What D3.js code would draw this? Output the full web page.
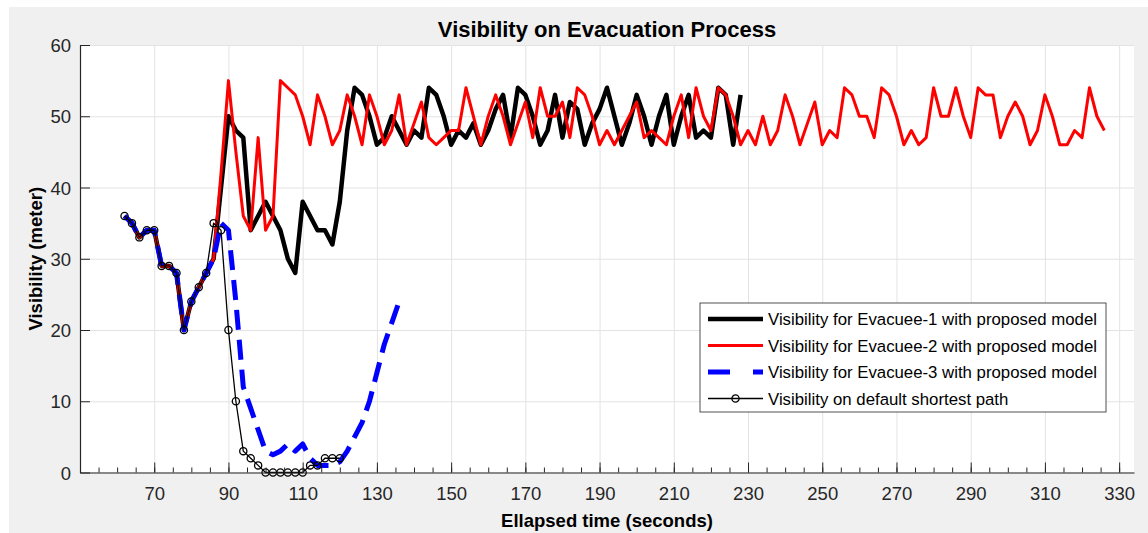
<!DOCTYPE html>
<html>
<head>
<meta charset="utf-8">
<script src="https://cdn.jsdelivr.net/npm/d3@7"></script>
<style>
  body { margin: 0; background: #ffffff; }
  svg { display: block; font-family: "Liberation Sans", Arial, sans-serif; }
</style>
</head>
<body>
<svg id="chart" width="1148" height="533"></svg>
<script>

// sampling: every 2 seconds, starting at 62 s
var nTimeStart = 62;
var nTimeStep = 2;

var aEvacuee1 = [36,35,33,34,34,29,29,28,20,24,26,28,30,
	40,50,48,47,34,36,38,36,34,30,28,38,36,34,34,32,38,48,54,53,
	50,46,47,50,48,46,48,47,54,53,50,46,48,47,49,46,48,51,53,47,
	54,53,50,46,48,53,47,52,51,46,49,51,54,50,46,49,53,50,46,50,
	53,46,50,53,47,48,47,54,53,46,53];

var aEvacuee2 = [36,35,33,34,34,29,29,28,20,24,26,28,30,
	42,55,45,36,34,47,34,36,55,54,53,50,46,53,50,46,48,53,50,46,
	53,50,46,48,53,46,49,52,47,46,47,48,48,54,50,46,50,53,50,46,
	49,52,47,54,50,50,52,47,54,53,50,46,48,46,48,50,52,47,48,47,
	46,50,53,47,54,50,48,54,53,50,46,48,46,50,46,48,53,50,46,49,
	52,46,48,47,54,53,50,50,47,54,53,50,46,48,46,47,54,50,50,54,
	50,47,54,53,53,47,50,52,50,46,48,53,50,46,46,48,47,54,50,48];

var aEvacuee3 = [36,35,33,34,34,29,29,28,20,24,26,28,30,
	35,34,24,12,9,6,3,2.5,3,4,3,4,2,1,1,1,1.5,3,5,7,10,14,18,21,24];

var aShortest = [36,35,33,34,34,29,29,28,20,24,26,28,35,34,20,10,3,2,1,0,
	0,0,0,0,0,1,1,2,2,2];

var aSeriesNames = [
	'Visibility for Evacuee-1 with proposed model',
	'Visibility for Evacuee-2 with proposed model',
	'Visibility for Evacuee-3 with proposed model',
	'Visibility on default shortest path'];

var aXTicks = [70,90,110,130,150,170,190,210,230,250,270,290,310,330];
var aYTicks = [0,10,20,30,40,50,60];

var strTitle = 'Visibility on Evacuation Process';
var strXLabel = 'Ellapsed time (seconds)';
var strYLabel = 'Visibility (meter)';


function ToPoints(aValues)
{
	return aValues.map(function(fValue, i)
		{
			return { t: nTimeStart + i*nTimeStep, v: fValue };
		});
}

var aSeries = [
	{ name: aSeriesNames[0], data: ToPoints(aEvacuee1), color: '#000000', width: 4.5, dash: null, marker: false },
	{ name: aSeriesNames[1], data: ToPoints(aEvacuee2), color: '#ff0000', width: 3, dash: null, marker: false },
	{ name: aSeriesNames[2], data: ToPoints(aEvacuee3), color: '#0000ff', width: 5, dash: '20,10', marker: false },
	{ name: aSeriesNames[3], data: ToPoints(aShortest), color: '#000000', width: 1.3, dash: null, marker: true }
];

var sSvg = d3.select('#chart');

var nLeft = 80, nRight = 1134, nTop = 45, nBottom = 472.5;
const strAxisColor = '#262626';

// figure background
sSvg.append('rect')
	.attr('x', 9).attr('y', 7)
	.attr('width', 1148-9).attr('height', 533-7)
	.attr('fill', '#f0f0f0');

sSvg.append('rect')
	.attr('x', nLeft).attr('y', nTop)
	.attr('width', nRight-nLeft).attr('height', nBottom-nTop)
	.attr('fill', '#ffffff');

var scaleX = d3.scaleLinear()
	.domain([50, 334])
	.range([nLeft, nRight]);

var scaleY = d3.scaleLinear()
	.domain([0, 60])
	.range([nBottom, nTop]);

// grid
sSvg.append('g')
	.attr('transform', 'translate(0,' + nBottom + ')')
	.call(d3.axisBottom(scaleX).tickValues(aXTicks).tickSize(-(nBottom-nTop)).tickFormat(''))
	.call(function(g) { g.select('.domain').remove(); })
	.selectAll('line').attr('stroke', '#e3e3e3').attr('stroke-width', 1);

sSvg.append('g')
	.attr('transform', 'translate(' + nLeft + ',0)')
	.call(d3.axisLeft(scaleY).tickValues(aYTicks).tickSize(-(nRight-nLeft)).tickFormat(''))
	.call(function(g) { g.select('.domain').remove(); })
	.selectAll('line').attr('stroke', '#e3e3e3').attr('stroke-width', 1);

// series
var lineGen = d3.line()
	.x(function(d) { return scaleX(d.t); })
	.y(function(d) { return scaleY(d.v); });

aSeries.forEach(function(oSeries)
	{
		sSvg.append('path')
			.datum(oSeries.data)
			.attr('d', lineGen)
			.attr('fill', 'none')
			.attr('stroke', oSeries.color)
			.attr('stroke-width', oSeries.width)
			.attr('stroke-linejoin', 'round')
			.attr('stroke-dasharray', oSeries.dash);

		if (oSeries.marker)
		{
			sSvg.append('g').selectAll('circle')
				.data(oSeries.data)
				.enter()
				.append('circle')
					.attr('cx', function(d) { return scaleX(d.t); })
					.attr('cy', function(d) { return scaleY(d.v); })
					.attr('r', 3.6)
					.attr('fill', 'none')
					.attr('stroke', oSeries.color)
					.attr('stroke-width', 1.3);
		}
	});

// axes: minor ticks, major ticks, labels
var sAxisX = sSvg.append('g')
	.attr('transform', 'translate(0,' + nBottom + ')');

sAxisX.append('g')
	.call(d3.axisBottom(scaleX).tickValues(d3.range(50, 334, 5)).tickSize(-5).tickFormat(''))
	.call(function(g) { g.select('.domain').remove(); })
	.selectAll('line').attr('stroke', strAxisColor);

sAxisX.append('g')
	.call(d3.axisBottom(scaleX).tickValues(aXTicks).tickSizeInner(-10).tickSizeOuter(0))
	.call(function(g)
		{
			g.select('.domain').attr('stroke', strAxisColor).attr('stroke-width', 1.2);
			g.selectAll('line').attr('stroke', strAxisColor);
			g.selectAll('text')
				.attr('y', 27)
				.attr('dy', 0)
				.attr('fill', strAxisColor)
				.style('font-size', '18.5px');
		});

sSvg.append('g')
	.attr('transform', 'translate(' + nLeft + ',0)')
	.call(d3.axisLeft(scaleY).tickValues(aYTicks).tickSizeInner(-10).tickSizeOuter(0))
	.call(function(g)
		{
			g.select('.domain').attr('stroke', strAxisColor).attr('stroke-width', 1.2);
			g.selectAll('line').attr('stroke', strAxisColor);
			g.selectAll('text')
				.attr('x', -9)
				.attr('dy', '0.36em')
				.attr('fill', strAxisColor)
				.style('font-size', '18.5px');
		});

// titles
sSvg.append('text')
	.attr('x', (nLeft+nRight)/2).attr('y', 37)
	.attr('text-anchor', 'middle')
	.style('font-size', '22px').style('font-weight', 'bold')
	.attr('fill', '#000')
	.text(strTitle);

sSvg.append('text')
	.attr('x', (nLeft+nRight)/2).attr('y', 527)
	.attr('text-anchor', 'middle')
	.style('font-size', '18.5px').style('font-weight', 'bold')
	.attr('fill', '#000')
	.text(strXLabel);

sSvg.append('text')
	.attr('transform', 'translate(42,' + ((nTop+nBottom)/2) + ') rotate(-90)')
	.attr('text-anchor', 'middle')
	.style('font-size', '18.5px').style('font-weight', 'bold')
	.attr('fill', '#000')
	.text(strYLabel);

// legend
var sLegend = sSvg.append('g').attr('transform', 'translate(700,303)');

sLegend.append('rect')
	.attr('width', 406).attr('height', 109)
	.attr('fill', '#ffffff')
	.attr('stroke', strAxisColor)
	.attr('stroke-width', 0.8);

var sItems = sLegend.selectAll('.legend-item')
	.data(aSeries)
	.enter()
	.append('g')
		.attr('class', 'legend-item')
		.attr('transform', function(d, i) { return 'translate(0,' + (16 + i*26.5) + ')'; });

sItems.append('line')
	.attr('x1', 8).attr('x2', 63)
	.attr('y1', 0).attr('y2', 0)
	.attr('stroke', function(d) { return d.color; })
	.attr('stroke-width', function(d) { return d.width; })
	.attr('stroke-dasharray', function(d) { return d.dash ? '22,23' : null; });

sItems.filter(function(d) { return d.marker; })
	.append('circle')
	.attr('cx', 35.5).attr('cy', 0).attr('r', 3.6)
	.attr('fill', 'none')
	.attr('stroke', function(d) { return d.color; })
	.attr('stroke-width', 1.3);

sItems.append('text')
	.attr('x', 68).attr('y', 0).attr('dy', '0.36em')
	.style('font-size', '16.8px')
	.attr('fill', '#000')
	.text(function(d) { return d.name; });

</script>
</body>
</html>
